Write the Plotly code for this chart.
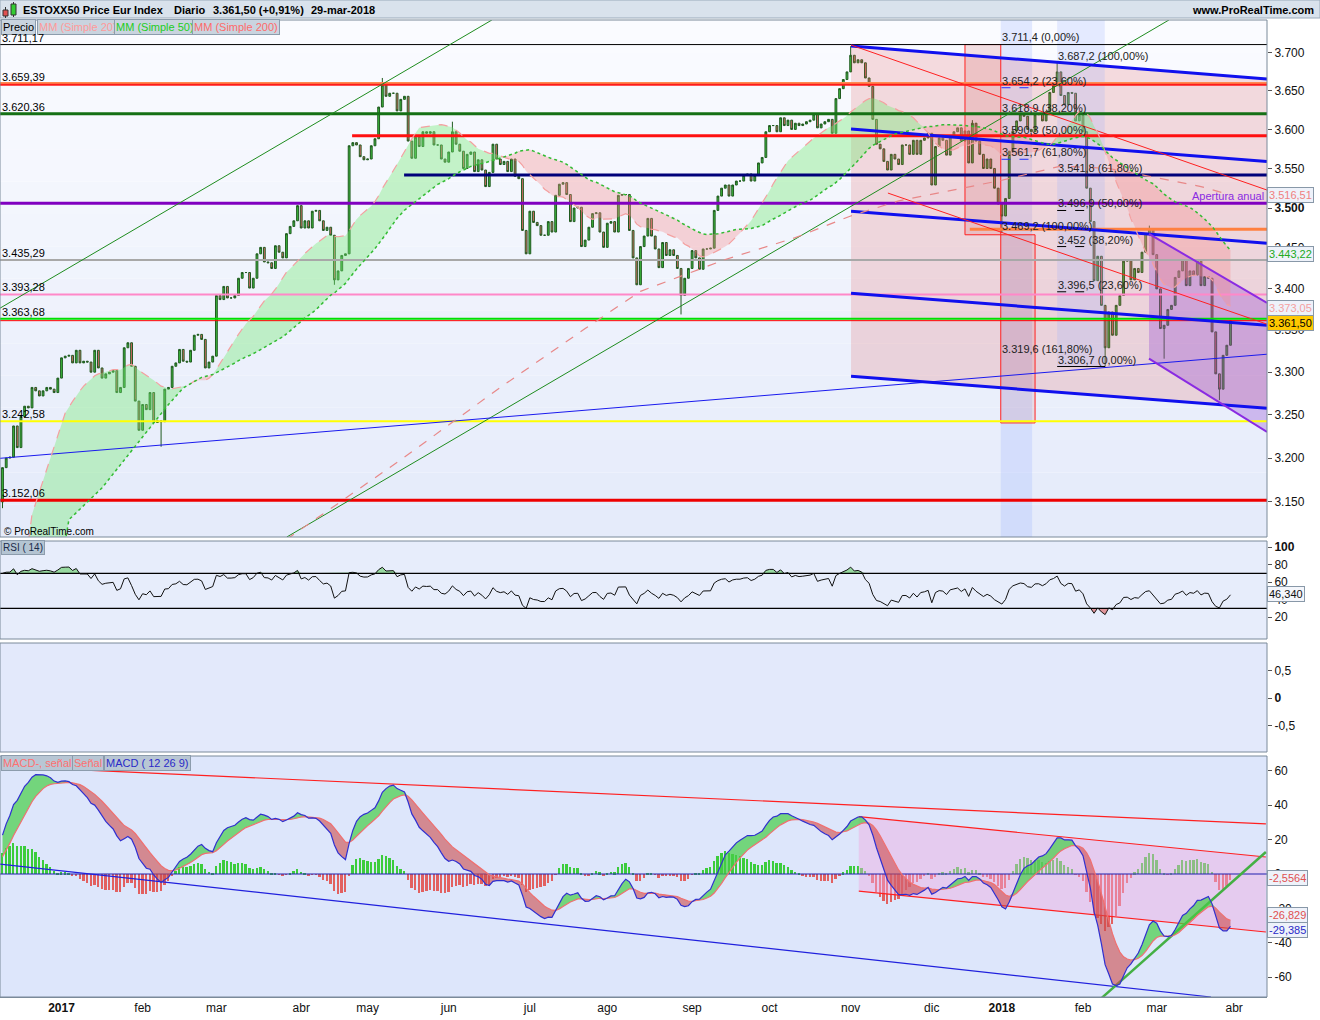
import numpy as np
import pandas as pd
import plotly.graph_objects as go

FONT = "Liberation Sans, Arial, sans-serif"

# ------------------------------------------------------------------ data
holidays = ["2016-12-26", "2017-04-14", "2017-04-17", "2017-05-01",
            "2017-12-25", "2017-12-26", "2018-01-01"]
all_days = pd.bdate_range("2016-12-08", "2018-03-29")
dates = all_days[~all_days.isin(pd.to_datetime(holidays))]

first_open = 3150.0
close_2016_12 = [3189, 3200, 3201, 3237, 3212, 3248, 3260, 3258, 3282, 3278, 3272, 3278, 3282, 3280, 3276, 3293]
close_2017_01 = [3317, 3319, 3320, 3311, 3326, 3311, 3313, 3312, 3300, 3326, 3305, 3293, 3298, 3300, 3302, 3276,
                 3282, 3329, 3335, 3307, 3266, 3232]
close_2017_02 = [3262, 3256, 3276, 3241, 3243, 3242, 3280, 3282, 3307, 3311, 3327, 3313, 3312, 3326, 3344, 3345,
                 3339, 3305, 3312, 3319]
close_2017_03 = [3392, 3387, 3403, 3389, 3389, 3392, 3413, 3420, 3420, 3401, 3413, 3443, 3451, 3433, 3432, 3425,
                 3453, 3445, 3438, 3468, 3477, 3484, 3503]
close_2017_04 = [3475, 3484, 3475, 3496, 3497, 3484, 3472, 3476, 3466, 3411, 3422, 3441, 3443, 3579, 3583, 3580,
                 3565, 3561]
close_2017_05 = [3562, 3579, 3588, 3629, 3658, 3643, 3647, 3647, 3624, 3639, 3643, 3585, 3563, 3590, 3578, 3597,
                 3595, 3597, 3580, 3580, 3562, 3558]
close_2017_06 = [3571, 3597, 3581, 3572, 3550, 3568, 3571, 3546, 3561, 3548, 3527, 3545, 3581, 3562, 3555, 3559,
                 3546, 3562, 3540, 3537, 3472, 3443]
close_2017_07 = [3496, 3482, 3478, 3466, 3466, 3483, 3470, 3516, 3530, 3532, 3517, 3483, 3500, 3501, 3452, 3460,
                 3476, 3493, 3494, 3470, 3451]
close_2017_08 = [3481, 3483, 3470, 3516, 3517, 3517, 3472, 3438, 3405, 3452, 3465, 3487, 3465, 3449, 3426, 3457,
                 3441, 3448, 3441, 3425, 3392, 3413, 3425]
close_2017_09 = [3447, 3438, 3424, 3449, 3449, 3450, 3497, 3515, 3525, 3529, 3515, 3529, 3534, 3534, 3541, 3543,
                 3534, 3541, 3557, 3564, 3597]
close_2017_10 = [3605, 3605, 3597, 3615, 3605, 3612, 3600, 3608, 3605, 3607, 3610, 3612, 3620, 3602, 3607, 3610,
                 3613, 3595, 3640, 3653, 3665, 3675]
close_2017_11 = [3697, 3687, 3691, 3687, 3667, 3656, 3613, 3581, 3575, 3559, 3548, 3568, 3562, 3555, 3580, 3580,
                 3568, 3586, 3568, 3586, 3589, 3595]
close_2017_12 = [3529, 3578, 3589, 3586, 3567, 3592, 3597, 3602, 3585, 3598, 3557, 3608, 3585, 3568, 3550, 3562,
                 3550, 3525, 3505]
close_2018_01 = [3490, 3512, 3572, 3598, 3611, 3620, 3617, 3600, 3597, 3619, 3620, 3611, 3623, 3648, 3657, 3675,
                 3644, 3632, 3648, 3647, 3611, 3618]
close_2018_02 = [3597, 3525, 3483, 3410, 3440, 3380, 3329, 3372, 3344, 3380, 3392, 3434, 3436, 3411, 3425, 3420,
                 3445, 3468, 3474, 3442]
close_2018_03 = [3400, 3352, 3356, 3375, 3380, 3414, 3422, 3436, 3404, 3422, 3417, 3434, 3404, 3415, 3413, 3348,
                 3298, 3280, 3320, 3332, 3361.5]

wick_high = {"2017-05-08": 3667, "2017-11-01": 3709, "2018-01-23": 3687.2, "2018-02-27": 3478,
             "2017-06-02": 3610, "2017-12-18": 3612}
wick_low = {"2016-12-08": 3143, "2017-02-08": 3213, "2017-08-29": 3369, "2018-02-09": 3306.7,
            "2018-03-26": 3267, "2018-01-02": 3469.2, "2018-03-05": 3316, "2017-04-18": 3405}

# moving-average read-outs where the history before the window is needed
sma20_head_bar = [7, 8, 13, 17]
sma20_head_val = [3105, 3136, 3200, 3252]
sma50_head_bar = [17, 18, 27, 36, 45]
sma50_head_val = [3105, 3130, 3166, 3214, 3262]
sma200_bar = [77, 108, 135, 158, 173, 196, 215, 230, 243, 257, 271, 287, 300, 311, 325, 333]
sma200_val = [3108, 3198, 3282, 3352, 3397, 3436, 3463, 3490, 3509, 3522, 3535, 3553, 3550, 3540, 3527, 3516.51]

rsi_seed_gain, rsi_seed_loss = 14.0, 6.0
ema12_seed, ema26_seed, signal_seed = 3080.0, 3065.0, 7.0

month_text = ["<b>2017</b>", "feb", "mar", "abr", "may", "jun", "jul", "ago", "sep", "oct", "nov", "dic",
              "<b>2018</b>", "feb", "mar", "abr"]
price_ticks = [3150, 3200, 3250, 3300, 3350, 3400, 3450, 3500, 3550, 3600, 3650, 3700]
price_tick_text = ["3.150", "3.200", "3.250", "3.300", "3.350", "3.400", "3.450", "<b>3.500</b>", "3.550",
                   "3.600", "3.650", "3.700"]

# horizontal levels: value, color, width, start bar (None = full width)
hlines = [
    (3711.17, "#000000", 1, None),
    (3660.5, "#ff8a50", 2, None),
    (3658.0, "#ff1a1a", 2, None),
    (3620.36, "#157015", 3, None),
    (3592.0, "#ff1010", 3, 94.8),
    (3541.8, "#00007a", 3, 108.9),
    (3506.0, "#8000c0", 3, None),
    (3473.5, "#ff8040", 3, 262.3),
    (3435.29, "#a8a8a8", 2, None),
    (3393.28, "#ff88c8", 2, None),
    (3363.68, "#00e000", 2, None),
    (3361.5, "#ff0000", 1, None),
    (3242.58, "#ffff00", 2, None),
    (3152.06, "#ee0000", 3, None),
]
left_labels = [(3711.17, "3.711,17"), (3659.39, "3.659,39"), (3620.36, "3.620,36"), (3435.29, "3.435,29"),
               (3393.28, "3.393,28"), (3363.68, "3.363,68"), (3242.58, "3.242,58"), (3152.06, "3.152,06")]

# trend lines: x0, y0, x1, y1, color, width
trend_lines = [
    (-0.68, 3376.6, 132.7, 3744.0, "#1e8c1e", 1),
    (77.1, 3110.7, 316.3, 3744.0, "#1e8c1e", 1),
    (-0.68, 3199.7, 342.9, 3321.3, "#1a1aee", 1),
    (230.1, 3709.4, 342.9, 3665.7, "#1010ee", 3),
    (230.1, 3600.4, 342.9, 3558.7, "#1010ee", 3),
    (230.1, 3496.1, 342.9, 3456.2, "#1010ee", 3),
    (230.1, 3394.8, 342.9, 3356.0, "#1010ee", 3),
    (230.1, 3295.2, 342.9, 3257.6, "#1010ee", 3),
    (230.1, 3710.6, 342.9, 3522.6, "#ff2020", 1),
    (240.1, 3518.8, 342.9, 3357.3, "#ff2020", 1),
    (310.9, 3467.8, 342.9, 3383.0, "#8a2be2", 2),
    (310.9, 3316.0, 342.9, 3230.0, "#8a2be2", 2),
]
# polygons: list of (x, y), fill, line color
polygons = [
    ([(230.1, 3709.4), (342.9, 3665.7), (342.9, 3257.6), (230.1, 3295.2)], "rgba(225,90,90,0.20)", None),
    ([(261.0, 3711.2), (270.7, 3711.2), (270.7, 3466.6), (261.0, 3466.6)], "rgba(200,50,50,0.14)", "#ff2020"),
    ([(270.7, 3466.6), (280.0, 3466.6), (280.0, 3240.5), (270.7, 3240.5)], "rgba(200,50,50,0.10)", "#ff2020"),
    ([(286.0, 3744.0), (298.9, 3744.0), (298.9, 3307.0), (286.0, 3307.0)], "rgba(150,175,255,0.22)", None),
    ([(310.9, 3467.8), (342.9, 3383.0), (342.9, 3230.0), (310.9, 3316.0)], "rgba(140,60,210,0.30)", None),
]
fib_a = [(3711.4, "3.711,4 (0,00%)"), (3654.2, "3.654,2 (23,60%)"), (3618.9, "3.618,9 (38,20%)"),
         (3590.3, "3.590,3 (50,00%)"), (3561.7, "3.561,7 (61,80%)"), (3469.2, "3.469,2 (100,00%)"),
         (3319.6, "3.319,6 (161,80%)")]
fib_b = [(3687.2, "3.687,2 (100,00%)"), (3541.8, "3.541,8 (61,80%)"), (3496.9, "3.496,9 (50,00%)"),
         (3452.0, "3.452 (38,20%)"), (3396.5, "3.396,5 (23,60%)"), (3306.7, "3.306,7 (0,00%)")]

macd_lines = [
    (10.7, 61.6, 342.6, 29.1, "#ff2020", 1.2),
    (-0.68, 5.8, 327.7, -71.5, "#2020dd", 1.2),
    (232.2, 33.3, 342.6, 9.9, "#ff2020", 1.2),
    (232.2, -9.9, 342.6, -33.7, "#ff2020", 1.2),
    (298.1, -72.0, 342.6, 12.8, "#44b044", 2.5),
]
macd_channel = [(232.2, 33.3), (342.6, 9.9), (342.6, -33.7), (232.2, -9.9)]

# ------------------------------------------------------------------ derived series
closes = np.array(close_2016_12 + close_2017_01 + close_2017_02 + close_2017_03 + close_2017_04 +
                  close_2017_05 + close_2017_06 + close_2017_07 + close_2017_08 + close_2017_09 +
                  close_2017_10 + close_2017_11 + close_2017_12 + close_2018_01 + close_2018_02 +
                  close_2018_03, dtype=float)
n = min(len(closes), len(dates))
closes = closes[:n]
dates = dates[:n]
idx = np.arange(n)
opens = np.concatenate([[first_open], closes[:-1]])
highs = np.maximum(opens, closes)
lows = np.minimum(opens, closes)
pos = {d.strftime("%Y-%m-%d"): k for k, d in enumerate(dates)}
for d, v in wick_high.items():
    if d in pos:
        highs[pos[d]] = max(highs[pos[d]], v)
for d, v in wick_low.items():
    if d in pos:
        lows[pos[d]] = min(lows[pos[d]], v)

s = pd.Series(closes)
sma20 = s.rolling(20).mean().to_numpy()
sma50 = s.rolling(50).mean().to_numpy()

ag, al = rsi_seed_gain, rsi_seed_loss
rsi = np.empty(n)
rsi[0] = 100 - 100 / (1 + ag / al)
for k in range(1, n):
    dlt = closes[k] - closes[k - 1]
    ag = (ag * 13 + max(dlt, 0)) / 14
    al = (al * 13 + max(-dlt, 0)) / 14
    rsi[k] = 100 - 100 / (1 + ag / al)


def ema(values, span, seed):
    a = 2.0 / (span + 1)
    out = np.empty(len(values))
    prev = seed
    for k, v in enumerate(values):
        prev = prev + a * (v - prev)
        out[k] = prev
    return out


macd = ema(closes, 12, ema12_seed) - ema(closes, 26, ema26_seed)
signal = ema(macd, 9, signal_seed)
hist = macd - signal

tick_idx = []
prev = None
for k, d in enumerate(dates):
    key = (d.year, d.month)
    if key != prev:
        if d.year > 2016:
            tick_idx.append(k)
        prev = key
tick_idx.append(n)

# ------------------------------------------------------------------ figure
XL, XR = -0.68, 342.9
W_PLOT, H_PLOT = 1267.0, 997.0
fig = go.Figure()


def add_line(xs, ys, color, width=1.0, yaxis="y", dash=None, fill=None, fillcolor=None):
    fig.add_trace(go.Scatter(x=list(xs), y=list(ys), mode="lines",
                             line=dict(color=color, width=width, dash=dash),
                             fill=fill, fillcolor=fillcolor, xaxis="x", yaxis=yaxis,
                             hoverinfo="skip", showlegend=False))


# price overlays
for pts, fc, lc in polygons:
    xs = [p[0] for p in pts] + [pts[0][0]]
    ys = [p[1] for p in pts] + [pts[0][1]]
    add_line(xs, ys, lc if lc else "rgba(0,0,0,0)", 1 if lc else 0, "y", fill="toself", fillcolor=fc)

# SMA cloud (head part)
head50_x = sma50_head_bar + [49]
head50_y = sma50_head_val + [sma50[49]]
head20_x = sma20_head_bar + list(range(19, 50))
head20_y = sma20_head_val + list(sma20[19:50])
add_line(head50_x, head50_y, "rgba(0,0,0,0)", 0)
add_line(head20_x, head20_y, "rgba(0,0,0,0)", 0, fill="tonexty", fillcolor="rgba(120,235,120,0.40)")
cx = idx[49:]
b50 = sma50[49:]
b20 = sma20[49:]
add_line(cx, b50, "rgba(0,0,0,0)", 0)
add_line(cx, np.maximum(b20, b50), "rgba(0,0,0,0)", 0, fill="tonexty", fillcolor="rgba(120,235,120,0.40)")
add_line(cx, b50, "rgba(0,0,0,0)", 0)
add_line(cx, np.minimum(b20, b50), "rgba(0,0,0,0)", 0, fill="tonexty", fillcolor="rgba(245,140,140,0.35)")

for val, col, wd, start in hlines:
    add_line([XL if start is None else start, XR], [val, val], col, wd)
for x0, y0, x1, y1, col, wd in trend_lines:
    add_line([x0, x1], [y0, y1], col, wd)

# fib underlines
add_line([270.9, 279.5], [3654.2, 3654.2], "#2030ff", 1, dash="dash")
add_line([270.9, 279.5], [3561.7, 3561.7], "#2030ff", 1, dash="dash")
add_line([286.0, 299.0], [3306.7, 3306.7], "#000000", 1)
add_line([286.0, 294.0], [3452.0, 3452.0], "#000000", 1, dash="dash")
add_line([286.0, 295.5], [3396.5, 3396.5], "#000000", 1, dash="dash")
add_line([286.0, 295.0], [3496.9, 3496.9], "#000000", 1, dash="dash")

# moving averages
add_line(sma20_head_bar + list(range(19, n)), sma20_head_val + list(sma20[19:]), "#f4a0a0", 1.2, dash="dash")
add_line(sma50_head_bar + list(range(49, n)), sma50_head_val + list(sma50[49:]), "#33bb33", 1.5, dash="dot")
add_line(sma200_bar, sma200_val, "#e88888", 1.2, dash="dash")

fig.add_trace(go.Candlestick(
    x=idx, open=opens, high=highs, low=lows, close=closes,
    increasing=dict(line=dict(color="#1f5a1f", width=1), fillcolor="#3dbb3d"),
    decreasing=dict(line=dict(color="#1f5a1f", width=1), fillcolor="#e06a6a"),
    whiskerwidth=0, xaxis="x", yaxis="y", hoverinfo="skip", showlegend=False))

# RSI
add_line(idx, np.full(n, 70.0), "rgba(0,0,0,0)", 0, "y2")
add_line(idx, np.maximum(rsi, 70), "rgba(0,0,0,0)", 0, "y2", fill="tonexty", fillcolor="rgba(100,205,100,0.6)")
add_line(idx, np.full(n, 30.0), "rgba(0,0,0,0)", 0, "y2")
add_line(idx, np.minimum(rsi, 30), "rgba(0,0,0,0)", 0, "y2", fill="tonexty", fillcolor="rgba(220,90,90,0.6)")
add_line([XL, XR], [70, 70], "#000000", 1.3, "y2")
add_line([XL, XR], [30, 30], "#000000", 1.3, "y2")
add_line(idx, rsi, "#111111", 1, "y2")

# empty panel (keeps its axis alive)
fig.add_trace(go.Scatter(x=[XL, XR], y=[0, 0], mode="lines", line=dict(color="rgba(0,0,0,0)", width=0),
                         xaxis="x", yaxis="y3", hoverinfo="skip", showlegend=False))

# MACD
mx = [p[0] for p in macd_channel] + [macd_channel[0][0]]
my = [p[1] for p in macd_channel] + [macd_channel[0][1]]
add_line(mx, my, "rgba(0,0,0,0)", 0, "y4", fill="toself", fillcolor="rgba(240,170,225,0.45)")
fig.add_trace(go.Bar(x=idx, y=hist, width=0.5,
                     marker=dict(color=["#3ccc3c" if h >= 0 else "#e26060" for h in hist], line=dict(width=0)),
                     xaxis="x", yaxis="y4", hoverinfo="skip", showlegend=False))
add_line([XL, XR], [0, 0], "#2020b0", 1.2, "y4")
for x0, y0, x1, y1, col, wd in macd_lines:
    add_line([x0, x1], [y0, y1], col, wd, "y4")
add_line(idx, signal, "rgba(0,0,0,0)", 0, "y4")
add_line(idx, np.maximum(macd, signal), "rgba(0,0,0,0)", 0, "y4", fill="tonexty",
         fillcolor="rgba(70,205,70,0.70)")
add_line(idx, signal, "rgba(0,0,0,0)", 0, "y4")
add_line(idx, np.minimum(macd, signal), "rgba(0,0,0,0)", 0, "y4", fill="tonexty",
         fillcolor="rgba(205,75,75,0.60)")
add_line(idx, signal, "#f07070", 1.2, "y4")
add_line(idx, macd, "#3030d0", 1.2, "y4")

# ------------------------------------------------------------------ shapes
shapes = []


def mix(c1, c2, t):
    a = [int(c1[i:i + 2], 16) for i in (1, 3, 5)]
    b = [int(c2[i:i + 2], 16) for i in (1, 3, 5)]
    return "rgb(%d,%d,%d)" % tuple(round(a[i] + (b[i] - a[i]) * t) for i in range(3))


NB = 16
for k in range(NB):
    shapes.append(dict(type="rect", xref="paper", yref="y domain", x0=0, x1=1, y0=k / NB, y1=(k + 1) / NB,
                       fillcolor=mix("#e4eafa", "#fbfcff", (k + 0.5) / NB), line=dict(width=0), layer="below"))
for ax, col in (("y2", "#e7edfb"), ("y3", "#e3e9fb"), ("y4", "#dde6fb")):
    shapes.append(dict(type="rect", xref="paper", yref=ax + " domain", x0=0, x1=1, y0=0, y1=1,
                       fillcolor=col, line=dict(width=0), layer="below"))
shapes.append(dict(type="rect", xref="x", yref="y domain", x0=270.7, x1=279.2, y0=0, y1=1,
                   fillcolor="rgba(150,175,255,0.25)", line=dict(width=0), layer="below"))
for ax in ("y", "y2", "y3", "y4"):
    shapes.append(dict(type="rect", xref="paper", yref=ax + " domain", x0=0, x1=1, y0=0, y1=1,
                       fillcolor="rgba(0,0,0,0)", line=dict(color="#7a8a9a", width=1), layer="above"))


def ppx(x):
    return x / W_PLOT


def ppy(y):
    return 1 - y / H_PLOT


# header bar
shapes.append(dict(type="rect", xref="paper", yref="paper", x0=0, x1=ppx(1320), y0=ppy(18), y1=1,
                   fillcolor="#d9e2ec", line=dict(color="#9aaaba", width=1), layer="above"))
# small candle icon
shapes.append(dict(type="line", xref="paper", yref="paper", x0=ppx(5.5), x1=ppx(5.5), y0=ppy(18), y1=ppy(7),
                   line=dict(color="#333", width=1), layer="above"))
shapes.append(dict(type="rect", xref="paper", yref="paper", x0=ppx(3), x1=ppx(8), y0=ppy(16), y1=ppy(10),
                   fillcolor="#e05050", line=dict(color="#333", width=1), layer="above"))
shapes.append(dict(type="line", xref="paper", yref="paper", x0=ppx(13.5), x1=ppx(13.5), y0=ppy(17), y1=ppy(2),
                   line=dict(color="#333", width=1), layer="above"))
shapes.append(dict(type="rect", xref="paper", yref="paper", x0=ppx(11), x1=ppx(16), y0=ppy(15), y1=ppy(4),
                   fillcolor="#33cc33", line=dict(color="#333", width=1), layer="above"))

# ------------------------------------------------------------------ annotations
ann = []


def add_ann(text, x, y, xref="paper", yref="paper", color="#000000", size=11, xanchor="left",
            yanchor="middle", bg=None, border=None, pad=1):
    d = dict(text=text, x=x, y=y, xref=xref, yref=yref, showarrow=False, xanchor=xanchor, yanchor=yanchor,
             font=dict(color=color, size=size, family=FONT), borderpad=pad)
    if bg:
        d["bgcolor"] = bg
    if border:
        d["bordercolor"] = border
        d["borderwidth"] = 1
    ann.append(d)


add_ann("<b>ESTOXX50 Price Eur Index</b>", ppx(21), ppy(10), size=11)
add_ann("<b>Diario</b>", ppx(172), ppy(10), size=11)
add_ann("<b>3.361,50 (+0,91%)</b>", ppx(211), ppy(10), size=11)
add_ann("<b>29-mar-2018</b>", ppx(309), ppy(10), size=11)
add_ann("<b>www.ProRealTime.com</b>", ppx(1316), ppy(10), size=11, xanchor="right")

LBG, LBD = "#c9d4df", "#8c9cac"
add_ann("Precio", ppx(1), ppy(27), size=11, bg=LBG, border=LBD)
add_ann("MM (Simple 20)", ppx(37), ppy(27), color="#ff9a9a", size=11, bg=LBG, border=LBD)
add_ann("MM (Simple 50)", ppx(114), ppy(27), color="#22cc22", size=11, bg=LBG, border=LBD)
add_ann("MM (Simple 200)", ppx(192), ppy(27), color="#ff6a6a", size=11, bg=LBG, border=LBD)
add_ann("© ProRealTime.com", ppx(2), ppy(531), size=10)

for val, txt in left_labels:
    add_ann(txt, ppx(1), np.log10(val), yref="y", size=11, yanchor="bottom", pad=0)
for val, txt in fib_a:
    add_ann(txt, 270.9, np.log10(val), xref="x", yref="y", color="#222222", size=11, yanchor="bottom", pad=0)
for val, txt in fib_b:
    add_ann(txt, 285.9, np.log10(val), xref="x", yref="y", color="#222222", size=11, yanchor="bottom", pad=0)
add_ann("Apertura anual", ppx(1265), np.log10(3506), yref="y", color="#8a2be2", size=11, xanchor="right",
        yanchor="bottom", pad=0)

RBG, RBD = "#eef2fa", "#8898a8"
add_ann("3.516,51", 1.0, np.log10(3516.51), yref="y", color="#f08080", size=11, bg=RBG, border=RBD)
add_ann("3.443,22", 1.0, np.log10(3443.22), yref="y", color="#22aa22", size=11, bg=RBG, border=RBD)
add_ann("3.373,05", 1.0, np.log10(3377.0), yref="y", color="#f4a0a0", size=11, bg=RBG, border=RBD)
add_ann("3.361,50", 1.0, np.log10(3359.0), yref="y", color="#000000", size=11, bg="#ffc800", border=RBD)

add_ann("RSI ( 14)", ppx(1), ppy(547), size=10, color="#1a2a4a", bg="#b4c4d2", border=LBD)
add_ann("46,340", 1.0, 46.34, yref="y2", size=11, color="#111111", bg="#f4f6fb", border=RBD)

add_ann("MACD-, señal", ppx(1), ppy(763), size=11, color="#ff7070", bg="#b8c6d4", border=LBD)
add_ann("Señal", ppx(72), ppy(763), size=11, color="#ff7070", bg="#b8c6d4", border=LBD)
add_ann("MACD ( 12 26 9)", ppx(104), ppy(763), size=11, color="#2a2ac8", bg="#b8c6d4", border=LBD)
add_ann("-2,5564", 1.0, -2.5, yref="y4", size=11, color="#e05050", bg=RBG, border=RBD)
add_ann("-26,829", 1.0, -24.0, yref="y4", size=11, color="#e05050", bg=RBG, border=RBD)
add_ann("-29,385", 1.0, -32.5, yref="y4", size=11, color="#2a2ac8", bg=RBG, border=RBD)

# ------------------------------------------------------------------ layout
tickfont = dict(size=12, family=FONT, color="#111111")
yax_common = dict(side="right", anchor="x", showgrid=False, zeroline=False, ticks="outside", ticklen=4,
                  tickcolor="#555555", tickfont=tickfont, showline=False, fixedrange=True)


def dom(top_px, bot_px):
    return [1 - bot_px / H_PLOT, 1 - top_px / H_PLOT]


fig.update_layout(
    width=1320, height=1020,
    margin=dict(l=0, r=53, t=0, b=23),
    paper_bgcolor="white", plot_bgcolor="white",
    showlegend=False, hovermode=False, bargap=0,
    font=dict(family=FONT),
    xaxis=dict(domain=[0, 1], range=[XL, XR], anchor="y4", tickvals=tick_idx, ticktext=month_text,
               showgrid=False, zeroline=False, rangeslider=dict(visible=False), ticks="", showline=True,
               linecolor="#7a8a9a", tickfont=tickfont),
    yaxis=dict(domain=dom(20, 537), type="log", range=[np.log10(3110.7), np.log10(3744.0)],
               tickvals=price_ticks, ticktext=price_tick_text, **yax_common),
    yaxis2=dict(domain=dom(541, 639), range=[-5.1, 106.9], tickvals=[20, 40, 60, 80, 100],
                ticktext=["20", "40", "60", "80", "<b>100</b>"], **yax_common),
    yaxis3=dict(domain=dom(643, 752), range=[-0.98, 1.0], tickvals=[-0.5, 0, 0.5],
                ticktext=["-0,5", "<b>0</b>", "0,5"], **yax_common),
    yaxis4=dict(domain=dom(756, 997), range=[-71.5, 68.6], tickvals=[-60, -40, -20, 0, 20, 40, 60],
                ticktext=["-60", "-40", "-20", "0", "20", "40", "60"], **yax_common),
    shapes=shapes,
    annotations=ann,
)

fig.write_html("out.html",
               config={"displayModeBar": False, "staticPlot": False},
               post_script="document.body.style.margin='0px';"
                           "document.documentElement.style.overflow='hidden';"
                           "document.body.style.overflow='hidden';")
